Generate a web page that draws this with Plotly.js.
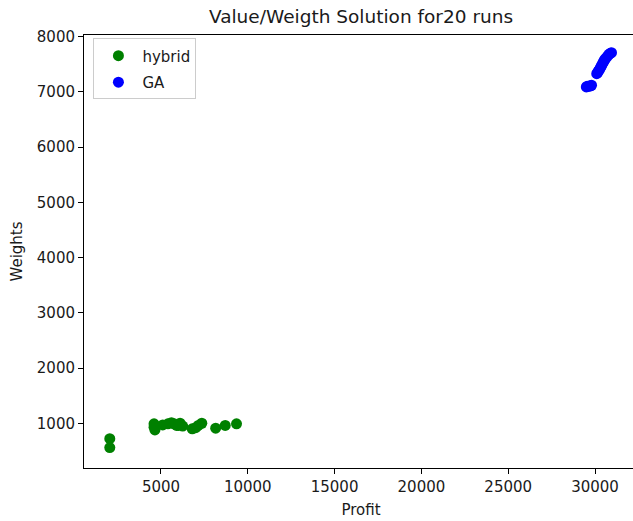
<!DOCTYPE html>
<html>
<head>
<meta charset="utf-8">
<script src="https://cdn.plot.ly/plotly-3.0.1.min.js"></script>
<style>
  html, body { margin: 0; padding: 0; background: #fff; overflow: hidden; }
  #chart { width: 640px; height: 521px; }
</style>
</head>
<body>
<div id="chart"></div>
<script>
// Hybrid algorithm results: profit vs. total weight, one point per run
const hybridProfit = [2050, 2050, 4600, 4600, 4650, 5100, 5400, 5600, 5750, 5900,
                      6000, 6100, 6250, 6800, 7000, 7150, 7350, 8150, 8700, 9350];
const hybridWeight = [720, 560, 990, 930, 880, 970, 990, 1010, 990, 960,
                      960, 1000, 950, 900, 920, 960, 1000, 910, 960, 990];

// Genetic algorithm results
const gaProfit = [29500, 29550, 29650, 29750, 29800, 30100, 30150, 30200, 30250, 30300,
                  30350, 30400, 30450, 30500, 30550, 30600, 30700, 30800, 30900, 30950];
const gaWeight = [7090, 7100, 7100, 7110, 7120, 7330, 7350, 7380, 7400, 7430,
                  7460, 7490, 7520, 7550, 7580, 7600, 7640, 7680, 7700, 7710];

const xTicks = [5000, 10000, 15000, 20000, 25000, 30000];
const yTicks = [1000, 2000, 3000, 4000, 5000, 6000, 7000, 8000];

const seriesNames = ['hybrid', 'GA'];

const font = "'DejaVu Sans', sans-serif";
const ink = '#1a1a1a';

const traces = [
  {
    x: hybridProfit, y: hybridWeight, name: seriesNames[0],
    type: 'scatter', mode: 'markers', legendgroup: 'a',
    marker: { color: '#008000', size: 11 }
  },
  {
    x: gaProfit, y: gaWeight, name: seriesNames[1],
    type: 'scatter', mode: 'markers', legendgroup: 'b',
    marker: { color: '#0000ff', size: 11 }
  }
];

const axisCommon = {
  showgrid: false, zeroline: false,
  showline: true, linecolor: '#000', linewidth: 1, mirror: true,
  ticks: 'outside', ticklen: 5, tickwidth: 1, tickcolor: '#000',
  tickfont: { family: font, size: 15, color: ink }
};

const layout = {
  width: 640, height: 521,
  margin: { l: 84, r: 2, t: 35, b: 53 },
  paper_bgcolor: '#fff', plot_bgcolor: '#fff',
  font: { family: font, color: ink },
  title: {
    text: 'Value/Weigth Solution for20 runs',
    font: { family: font, size: 18.5, color: ink },
    x: 0.5, xref: 'paper', y: 0.969, yref: 'container', yanchor: 'middle'
  },
  xaxis: Object.assign({}, axisCommon, {
    range: [565, 32477], tickvals: xTicks, ticktext: xTicks.map(String),
    title: { text: 'Profit', font: { family: font, size: 15, color: ink }, standoff: 9 }
  }),
  yaxis: Object.assign({}, axisCommon, {
    range: [190, 8030], tickvals: yTicks, ticktext: yTicks.map(String),
    title: { text: 'Weights', font: { family: font, size: 15, color: ink }, standoff: 10 }
  }),
  showlegend: true,
  legend: {
    x: 0.017, y: 0.992, xanchor: 'left', yanchor: 'top',
    bgcolor: '#fff', bordercolor: '#cccccc', borderwidth: 1,
    font: { family: font, size: 15, color: ink },
    itemwidth: 38,
    traceorder: 'grouped', tracegroupgap: 4
  }
};

Plotly.newPlot('chart', traces, layout, { displayModeBar: false, staticPlot: true });
</script>
</body>
</html>
